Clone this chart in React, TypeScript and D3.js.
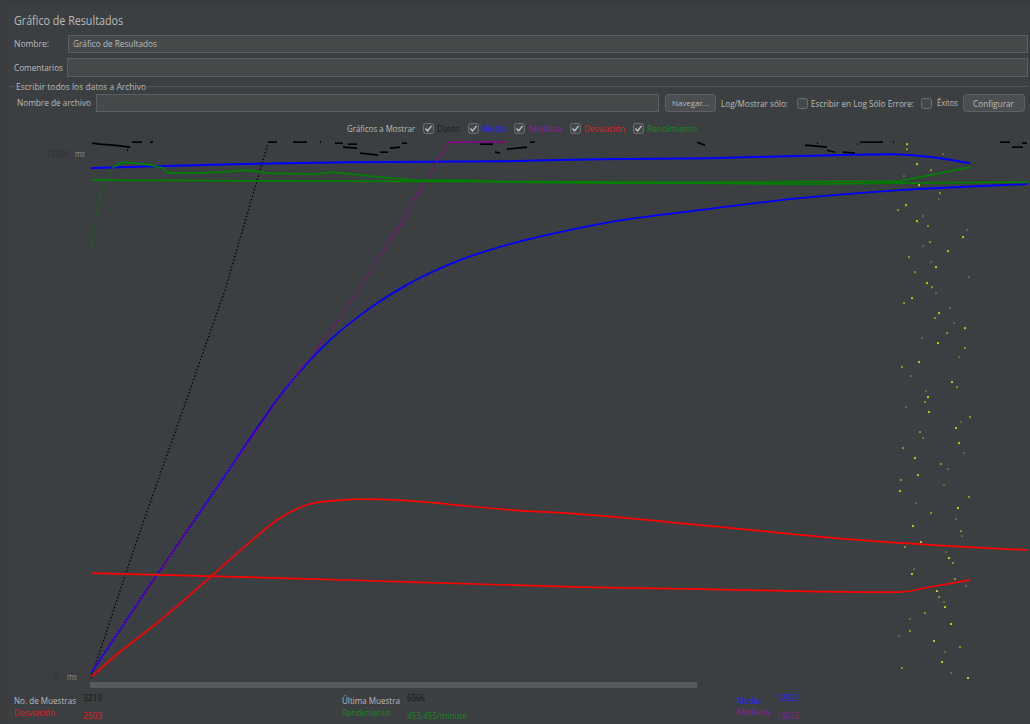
import React from "react";
import * as d3 from "d3";

// ---------- data (x = sample column, y = milliseconds) ----------
const Y_MAX = 13454;
const X_COLUMNS = 936;

const legendLabels = ["Datos", "Media", "Mediana", "Desviación", "Rendimiento"];
const legendColors = ["#1c1c1c", "#2323ff", "#8e1a9c", "#e41b1b", "#1e861e"];

const statLabelsLeft = ["No. de Muestras", "Desviación"];
const statValuesLeft = ["3219", "2503"];
const statLabelsMid = ["Última Muestra", "Rendimiento"];
const statValuesMid = ["6566", "453,455/minuto"];
const statLabelsRight = ["Media", "Mediana"];
const statValuesRight = ["12923", "13623"];

const dataRise: [number, number][] = [
  [0, 50], [46, 3500], [89, 6550], [134, 9750], [177, 13425],
];

const meanPass1: [number, number][] = [
  [0, 175], [59, 2375], [131, 5000], [199, 7425], [239, 8500], [279, 9300],
  [319, 9925], [369, 10500], [419, 10900], [469, 11200], [519, 11450],
  [609, 11750], [709, 12050], [809, 12250], [936, 12400],
];

const meanPass2: [number, number][] = [
  [0, 12800], [142, 12900], [259, 12950], [416, 12975], [509, 13025],
  [619, 13050], [742, 13125], [799, 13150], [842, 13075], [879, 12925],
];

const medianRise: [number, number][] = [
  [0, 200], [59, 2375], [131, 5000], [199, 7425], [239, 8700],
  [279, 10200], [309, 11375], [331, 12325], [349, 13075], [357, 13425],
];
const medianFlat: [number, number][] = [
  [357, 13440], [379, 13454], [414, 13454],
];

const deviationPass1: [number, number][] = [
  [0, 75], [29, 700], [66, 1425], [116, 2500], [159, 3450], [189, 4050],
  [219, 4400], [249, 4500], [272, 4525], [309, 4500], [356, 4400],
  [422, 4250], [489, 4150], [609, 3875], [769, 3500], [936, 3250],
];

const deviationPass2: [number, number][] = [
  [0, 2675], [189, 2550], [322, 2450], [489, 2325], [609, 2275],
  [769, 2200], [809, 2200], [839, 2325], [879, 2500],
];

const throughputRise: [number, number][] = [
  [0, 10750], [2, 11125], [6, 11675], [12, 12425], [22, 12825],
];
const throughputPass1: [number, number][] = [
  [22, 12825], [32, 12950], [42, 12925], [56, 12900], [72, 12800], [76, 12700],
  [82, 12675], [106, 12675], [129, 12700], [156, 12750], [176, 12675],
  [222, 12650], [242, 12700], [289, 12575], [322, 12500], [372, 12500],
  [416, 12450], [509, 12425], [609, 12425], [709, 12400], [809, 12425], [936, 12450],
];

const throughputPass2: [number, number][] = [
  [0, 12500], [259, 12475], [609, 12450], [809, 12475], [879, 12825],
];

const dataTopSegments: [number, number][][] = [
  [[1, 13425], [9, 13400], [22, 13375], [39, 13325]],
  [[36, 13250], [37, 13250]],
  [[41, 13450], [51, 13450]],
  [[59, 13450], [62, 13450]],
  [[177, 13450], [186, 13450]],
  [[202, 13450], [216, 13450]],
  [[229, 13450], [230, 13450]],
  [[244, 13425], [252, 13425]],
  [[252, 13325], [266, 13300]],
  [[257, 13400], [266, 13400]],
  [[269, 13175], [287, 13125]],
  [[289, 13200], [297, 13200]],
  [[299, 13300], [309, 13325]],
  [[311, 13425], [316, 13425]],
  [[389, 13400], [402, 13400]],
  [[404, 13200], [409, 13175]],
  [[416, 13275], [436, 13325]],
  [[439, 13450], [444, 13450]],
  [[606, 13450], [614, 13375]],
  [[714, 13375], [736, 13325]],
  [[726, 13425], [727, 13425]],
  [[736, 13250], [744, 13200]],
  [[752, 13200], [764, 13175]],
  [[766, 13400], [767, 13400]],
  [[769, 13450], [792, 13450]],
  [[802, 13450], [803, 13450]],
  [[909, 13450], [919, 13450]],
  [[921, 13325], [932, 13325]],
  [[931, 13425], [936, 13425]],
];

const lastSamples: [number, number][] = [
  [816, 13400], [816, 13275], [852, 13150], [826, 12900], [840, 12750], [813, 12600],
  [828, 12375], [849, 12175], [848, 12025], [815, 11875], [807, 11750], [832, 11600],
  [826, 11475], [837, 11350], [876, 11250], [872, 11075], [839, 10950], [832, 10850],
  [857, 10725], [818, 10575], [840, 10450], [845, 10325], [824, 10200], [878, 10075],
  [836, 9925], [841, 9825], [845, 9675], [821, 9550], [813, 9425], [859, 9300],
  [848, 9175], [844, 9050], [863, 8925], [874, 8800], [856, 8675], [831, 8550],
  [847, 8425], [874, 8300], [868, 8075], [828, 7950], [811, 7825], [820, 7600],
  [861, 7450], [866, 7325], [835, 7225], [837, 7075], [834, 6950], [815, 6825],
  [838, 6700], [879, 6575], [870, 6450], [865, 6300], [829, 6200], [832, 6050],
  [868, 5925], [812, 5800], [873, 5675], [824, 5550], [850, 5400], [857, 5275],
  [827, 5125], [810, 5000], [853, 4875], [809, 4725], [878, 4575], [825, 4425],
  [867, 4300], [840, 4175], [865, 4025], [822, 3850], [870, 3725], [871, 3600],
  [830, 3450], [814, 3325], [855, 3200], [858, 3050], [862, 2925], [823, 2775],
  [821, 2650], [864, 2525], [875, 2350], [846, 2225], [848, 2075], [853, 1950],
  [854, 1825], [834, 1675], [819, 1525], [860, 1400], [819, 1225], [808, 1100],
  [843, 975], [869, 825], [854, 700], [851, 450], [811, 300], [860, 175], [877, 50],
];

// ---------- scales ----------
const xScale = d3.scaleLinear().domain([0, X_COLUMNS]).range([91, 1027]);
const yScale = d3.scaleLinear().domain([0, Y_MAX]).range([680, 142]);

const smooth = d3
  .line<[number, number]>()
  .x((d) => xScale(d[0]))
  .y((d) => yScale(d[1]))
  .curve(d3.curveMonotoneX);
const straight = d3
  .line<[number, number]>()
  .x((d) => xScale(d[0]))
  .y((d) => yScale(d[1]));

const FONT = "'Open Sans', 'Noto Sans', sans-serif";
const LABEL = "#bbbbbb";

type TP = {
  x: number;
  y: number;
  w?: number;
  size?: number;
  fill?: string;
  children: React.ReactNode;
};
function T({ x, y, w, size = 9, fill = LABEL, children }: TP) {
  return (
    <text
      x={x}
      y={y}
      fontSize={size}
      fill={fill}
      fontFamily={FONT}
      textLength={w}
      lengthAdjust={w ? "spacingAndGlyphs" : undefined}
    >
      {children}
    </text>
  );
}

function Check({ x, y, checked }: { x: number; y: number; checked: boolean }) {
  return (
    <g>
      <rect x={x + 0.5} y={y + 0.5} width={10} height={10} rx={2} fill="#43494a" stroke="#6b6e70" />
      {checked && (
        <path
          d={`M${x + 2.5} ${y + 5.5} L${x + 4.6} ${y + 8} L${x + 8.5} ${y + 2.8}`}
          stroke="#c4c4c4"
          strokeWidth={1.3}
          fill="none"
        />
      )}
    </g>
  );
}

export default function App() {
  const legendX = [437, 482, 529, 584, 647];
  const legendW = [23, 25, 33, 41, 50];
  const legendBoxX = [423, 468, 514, 570, 633];
  return (
    <svg
      width={1030}
      height={724}
      style={{ position: "absolute", left: 0, top: 0, display: "block" }}
    >
      <rect x={0} y={0} width={1030} height={724} fill="#3c3f41" />
      <rect x={0} y={0} width={1030} height={5} fill="#393b3d" />
      <rect x={0} y={0} width={7} height={724} fill="#393b3d" />

      {/* header */}
      <T x={14} y={25} w={109} size={12}>Gráfico de Resultados</T>
      <T x={14} y={47} w={35}>Nombre:</T>
      <rect x={68.5} y={35.5} width={959} height={17} fill="#45494a" stroke="#5c5f61" />
      <T x={73} y={46.5} w={84} size={8.5}>Gráfico de Resultados</T>
      <T x={14} y={71} w={49}>Comentarios</T>
      <rect x={67.5} y={58.5} width={960} height={18} fill="#45494a" stroke="#5c5f61" />
      <line x1={9} x2={14} y1={86.5} y2={86.5} stroke="#555759" />
      <line x1={148} x2={1028} y1={86.5} y2={86.5} stroke="#555759" />
      <T x={16} y={90} w={130}>Escribir todos los datos a Archivo</T>
      <T x={17} y={105.5} w={74}>Nombre de archivo</T>
      <rect x={96.5} y={94.5} width={562} height={17} fill="#45494a" stroke="#5c5f61" />
      <rect x={665.5} y={94.5} width={50} height={17} rx={3} fill="#4a4e50" stroke="#5e6264" />
      <T x={672} y={106} w={37} size={7.5}>Navegar...</T>
      <T x={721} y={107} w={67}>Log/Mostrar sólo:</T>
      <Check x={797} y={98} checked={false} />
      <T x={811} y={107} w={103}>Escribir en Log Sólo Errore:</T>
      <Check x={921} y={98} checked={false} />
      <T x={937} y={106} w={21}>Éxitos</T>
      <rect x={963.5} y={94.5} width={61} height={17} rx={3} fill="#4a4e50" stroke="#5e6264" />
      <T x={973} y={107} w={41}>Configurar</T>

      {/* legend */}
      <T x={347} y={131.5} w={68}>Gráficos a Mostrar</T>
      {legendLabels.map((l, i) => (
        <g key={l}>
          <Check x={legendBoxX[i]} y={123} checked={true} />
          <T x={legendX[i]} y={131.5} w={legendW[i]} fill={legendColors[i]}>
            {l}
          </T>
        </g>
      ))}

      {/* axis labels */}
      <T x={46} y={157} w={22} size={9} fill="#2c2c2c">{String(Y_MAX)}</T>
      <T x={75} y={157} w={10} size={9} fill="#8d8d8d">ms</T>
      <T x={54} y={679.5} w={5} size={9} fill="#2c2c2c">0</T>
      <T x={67} y={679.5} w={10} size={9} fill="#8d8d8d">ms</T>

      {/* plot */}
      <g fill="none" strokeLinejoin="round">
        {/* data samples (black) */}
        <path d={straight(dataRise) || ""} stroke="#000" strokeWidth={1.4} strokeDasharray="1.3 2.2" />
        {dataTopSegments.map((s, i) => (
          <path key={i} d={straight(s) || ""} stroke="#000" strokeWidth={1.6} />
        ))}
        {/* mean */}
        <path d={smooth(meanPass1) || ""} stroke="#0000ff" strokeWidth={1.8} />
        <path d={smooth(meanPass2) || ""} stroke="#0000ff" strokeWidth={2} />
        {/* median */}
        <path d={straight(medianRise) || ""} stroke="#8b008b" strokeWidth={1.6} strokeDasharray="2 1.6" />
        <path d={straight(medianFlat) || ""} stroke="#8b008b" strokeWidth={1.6} />
        {/* deviation */}
        <path d={smooth(deviationPass1) || ""} stroke="#ff0000" strokeWidth={1.7} />
        <path d={smooth(deviationPass2) || ""} stroke="#ff0000" strokeWidth={1.7} />
        {/* throughput */}
        <path d={straight(throughputRise) || ""} stroke="#008000" strokeWidth={1.4} strokeDasharray="1.3 3" />
        <path d={straight(throughputPass1) || ""} stroke="#008000" strokeWidth={1.8} />
        <path d={straight(throughputPass2) || ""} stroke="#008000" strokeWidth={1.8} />
        {/* latest samples */}
        {lastSamples.map((d, i) => (
          <rect
            key={i}
            x={xScale(d[0]) - 0.8}
            y={yScale(d[1]) - 1}
            width={1.6}
            height={2}
            fill={i % 3 === 0 ? "#e6e600" : i % 3 === 1 ? "#a6a622" : "#77773a"}
            stroke="none"
          />
        ))}
      </g>

      {/* scrollbar */}
      <rect x={90} y={682} width={607} height={6} fill="#58595b" />

      {/* stats */}
      <T x={14} y={704} w={62}>{statLabelsLeft[0]}</T>
      <T x={83} y={701} w={19} fill="#151515">{statValuesLeft[0]}</T>
      <T x={14} y={716} w={41} fill="#e41b1b">{statLabelsLeft[1]}</T>
      <T x={83} y={718.5} w={19} fill="#e41b1b">{statValuesLeft[1]}</T>
      <T x={342} y={704} w={58}>{statLabelsMid[0]}</T>
      <T x={407} y={701} w={18} fill="#151515">{statValuesMid[0]}</T>
      <T x={342} y={716} w={48} fill="#1e861e">{statLabelsMid[1]}</T>
      <T x={407} y={718.5} w={60} fill="#1e861e">{statValuesMid[1]}</T>
      <T x={737} y={704} w={23} fill="#2323ff">{statLabelsRight[0]}</T>
      <T x={777} y={701} w={22} fill="#2323ff">{statValuesRight[0]}</T>
      <T x={737} y={715} w={33} fill="#8e1a9c">{statLabelsRight[1]}</T>
      <T x={777} y={718.5} w={22} fill="#8e1a9c">{statValuesRight[1]}</T>
    </svg>
  );
}
